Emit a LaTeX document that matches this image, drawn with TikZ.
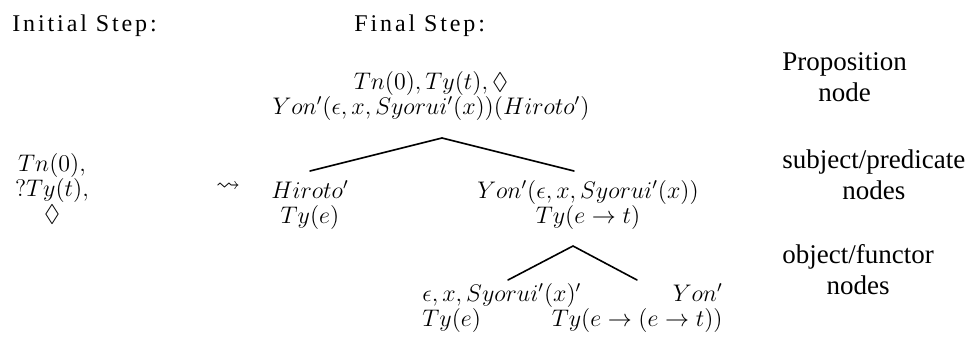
\documentclass[tikz,border=0pt]{standalone}
\usepackage{amsmath, amssymb}
\usepackage{fontspec}
\setmainfont{Liberation Serif}
\newfontfamily\spacedfont[LetterSpace=12]{Liberation Serif}
\usepackage{tikz}

\tikzset{
  formula/.style={font=\fontsize{12}{12.5}\selectfont, align=center, inner sep=0pt},
  steplabel/.style={font=\spacedfont\fontsize{12}{14}\selectfont, anchor=base west, inner sep=0pt},
  levellabel/.style={font=\fontsize{13.5}{15.5}\selectfont, align=center, anchor=north west, inner sep=0pt},
  branch/.style={line width=0.8pt}
}

\begin{document}
\begin{tikzpicture}[x=0.5pt, y=-0.5pt, line cap=round, line join=round]
\useasboundingbox (0,0) rectangle (967,337);

% Intestazioni
\node[steplabel] (initlbl) at (12,31) {Initial Step:};
\node[steplabel] (finlbl) at (354,31) {Final Step:};

% Passo iniziale
\node[formula, anchor=north] (init) at (52,153) {$Tn(0),$\\$?Ty(t),$\\$\Diamond$};
\node[formula] (leads) at (228,187) {$\leadsto$};

% Nodo radice
\node[formula, anchor=north] (root) at (431,71)
  {$Tn(0), Ty(t), \Diamond$\\$Yon'(\epsilon, x, Syorui'(x))(Hiroto')$};

% Soggetto / predicato
\node[formula, anchor=north] (subj) at (310,180) {$Hiroto'$\\$Ty(e)$};
\node[formula, anchor=north] (pred) at (588,180) {$Yon'(\epsilon, x, Syorui'(x))$\\$Ty(e \rightarrow t)$};

% Oggetto / funtore
\node[formula, anchor=north west, align=left] (obj) at (422,283) {$\epsilon, x, Syorui'(x)'$\\$Ty(e)$};
\node[formula, anchor=north east, align=right] (fun) at (723,283) {$Yon'$\\$Ty(e \rightarrow (e \rightarrow t))$};

% Rami
\coordinate (top) at (442,138);
\coordinate (mid) at (573,246);
\draw[branch] (top) -- ([yshift=4.5pt]subj.north);
\draw[branch] (top) -- ([xshift=-7pt,yshift=4.5pt]pred.north);
\draw[branch] (mid) -- ([xshift=43pt,yshift=1.5pt]obj.north west);
\draw[branch] (mid) -- ([xshift=-43pt,yshift=1.5pt]fun.north east);

% Etichette dei livelli
\node[levellabel] (lvlone) at (782,52) {Proposition\\node};
\node[levellabel] (lvltwo) at (782,149) {subject/predicate\\nodes};
\node[levellabel] (lvlthree) at (782,244) {object/functor\\nodes};

\end{tikzpicture}
\end{document}
